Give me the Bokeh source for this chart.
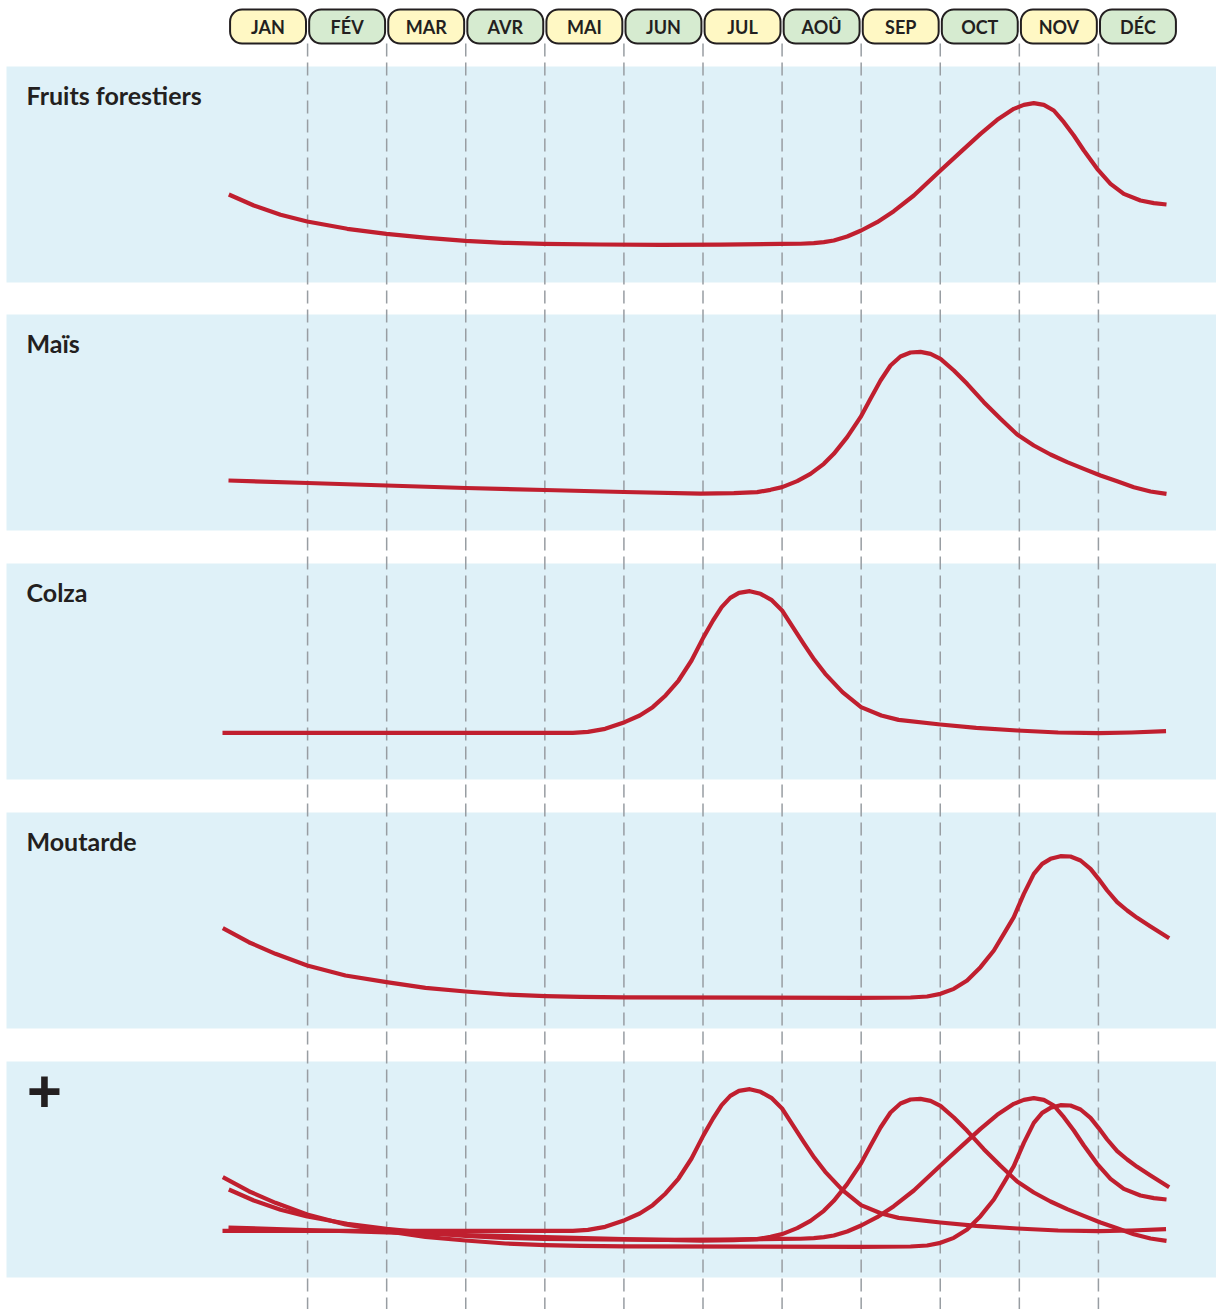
from bokeh.plotting import figure
from bokeh.models import Range1d
from bokeh.embed import file_html
from bokeh.resources import INLINE
from bokeh.core.properties import value

# ---------------- data ----------------
months = ["JAN", "FÉV", "MAR", "AVR", "MAI", "JUN", "JUL", "AOÛ", "SEP", "OCT", "NOV", "DÉC"]
month_colors = ["#fff8c4", "#d6ebd0"] * 6

titles = ["Fruits forestiers", "Maïs", "Colza", "Moutarde", "+"]

# x in months (0 = start of January), y in % of panel height
fruits_m = [0.004, 0.320, 0.658, 0.995, 1.501, 1.998, 2.513, 2.997, 3.481, 3.987, 4.704, 5.463, 6.221,
            6.980, 7.233, 7.401, 7.528, 7.654, 7.823, 8.000, 8.202, 8.413, 8.666, 9.003, 9.256,
            9.509, 9.720, 9.930, 10.057, 10.183, 10.310, 10.436, 10.563, 10.689, 10.816, 10.984,
            11.153, 11.321, 11.532, 11.701, 11.861]
fruits_v = [40.74, 35.65, 31.34, 28.24, 24.86, 22.55, 20.69, 19.31, 18.38, 17.92, 17.60, 17.45, 17.55,
            17.90, 17.95, 18.21, 18.67, 19.44, 21.30, 24.07, 27.93, 33.02, 40.28, 51.85, 60.34,
            68.83, 75.31, 80.40, 82.25, 83.02, 82.25, 79.63, 74.23, 68.06, 61.11, 52.62,
            45.68, 41.05, 37.96, 36.73, 36.11]

mais_m = [0.0, 1.0, 2.0, 3.0, 4.0, 5.0, 5.968, 6.390, 6.685, 6.854, 7.001, 7.191, 7.359, 7.528,
          7.654, 7.823, 7.992, 8.118, 8.245, 8.371, 8.497, 8.624, 8.750, 8.877, 9.003, 9.172,
          9.340, 9.551, 9.762, 9.973, 10.183, 10.394, 10.605, 10.816, 11.026, 11.237, 11.448,
          11.659, 11.861]
mais_v = [23.15, 21.99, 20.83, 19.68, 18.75, 17.82, 17.10, 17.28, 17.75, 18.83, 20.06, 22.84, 26.23, 30.86,
          35.49, 43.21, 52.47, 60.96, 69.44, 76.39, 80.56, 82.41, 82.72, 81.79, 79.48, 74.07,
          67.90, 59.41, 51.70, 44.44, 39.35, 35.19, 31.64, 28.55, 25.46, 22.84, 20.06,
          18.06, 16.98]

colza_m = [-0.076, 3.945, 4.354, 4.545, 4.763, 5.009, 5.200, 5.364, 5.527, 5.691, 5.855, 6.007,
           6.127, 6.236, 6.345, 6.455, 6.591, 6.727, 6.864, 7.000, 7.136, 7.273, 7.409, 7.546,
           7.764, 7.998, 8.255, 8.473, 9.002, 9.455, 9.973, 10.491, 11.004, 11.419, 11.855]
colza_v = [21.60, 21.60, 21.60, 22.07, 23.46, 26.54, 29.63, 33.49, 38.89, 45.83, 55.09, 65.90,
           73.61, 79.78, 84.10, 86.42, 87.19, 85.96, 83.18, 78.24, 70.52, 62.81, 55.40, 48.92,
           40.43, 33.49, 29.63, 27.62, 25.46, 23.92, 22.69, 21.76, 21.45, 21.76, 22.38]

mout_m = [-0.072, 0.257, 0.594, 0.995, 1.479, 1.998, 2.491, 2.997, 3.503, 4.008, 4.451, 5.0,
          7.992, 8.624, 8.834, 9.003, 9.172, 9.340, 9.509, 9.678, 9.804, 9.930, 10.057, 10.183,
          10.289, 10.394, 10.521, 10.647, 10.774, 10.900, 11.001, 11.111, 11.237, 11.364, 11.490,
          11.659, 11.895]
mout_v = [46.44, 39.95, 34.58, 29.17, 24.54, 21.44, 18.84, 17.13, 15.74, 14.95, 14.60, 14.40,
          14.20, 14.35, 14.81, 16.05, 18.36, 22.22, 28.40, 36.11, 43.83, 51.54, 62.35, 71.60,
          76.23, 78.55, 79.78, 79.63, 77.78, 73.92, 69.29, 63.89, 58.49, 54.63, 51.23,
          47.22, 41.82]

series = [(fruits_m, fruits_v), (mais_m, mais_v), (colza_m, colza_v), (mout_m, mout_v)]

# ---------------- layout ----------------
W, H = 1216, 1309
TOP_ROW, BOT_ROW = 0, 1309
PX_PER_M = (1177 - 228) / 12.0


def m_of(px):
    return (px - 228) / PX_PER_M


RED = "#c01f2f"
INK = "#231f20"
FONT = value("Lato")

p = figure(width=W, height=H, x_range=Range1d(m_of(0), m_of(W)),
           y_range=Range1d(BOT_ROW, TOP_ROW), output_backend="svg",
           toolbar_location=None, min_border=0, x_axis_location=None,
           y_axis_location=None, outline_line_color=None)
p.grid.visible = False
p.background_fill_color = "white"
p.border_fill_color = "white"

band_tops = [66, 314, 563, 812, 1061]
band_h = 216

p.quad(left=m_of(6), right=m_of(1216), top=band_tops, bottom=[t + band_h for t in band_tops],
       fill_color="#dff1f8", line_color=None)

# dashed month separators
seps = list(range(1, 12))
p.segment(x0=seps, y0=[43] * len(seps), x1=seps, y1=[BOT_ROW] * len(seps),
          line_color="#989da2", line_width=1.5, line_dash="13 6")

# month pills
idx = list(range(12))
p.quad(left=[i + 0.02 for i in idx], right=[i + 0.98 for i in idx], top=[9] * 12, bottom=[43] * 12,
       fill_color=month_colors, line_color=INK, line_width=2, border_radius=12)
p.text(x=[i + 0.5 for i in idx], y=[26.5] * 12, text=months, text_align="center",
       text_baseline="alphabetic", text_font=FONT, text_font_style="bold",
       text_font_size="18px", text_color=INK)

# panel titles
p.text(x=[m_of(26)] * 4, y=[t + 28 for t in band_tops[:4]], text=titles[:4], text_align="left",
       text_baseline="alphabetic", text_font=FONT, text_font_style="bold",
       text_font_size="25px", text_color=INK)
p.text(x=[m_of(44)], y=[band_tops[4] + 30], text=[titles[4]], text_align="center",
       text_baseline="alphabetic", text_font=value("Open Sans"), text_font_style="bold",
       text_font_size="62px", text_color=INK)

# per-panel y scales: 0..100 maps onto each band
extra = {}
for k, T in enumerate(band_tops):
    B = T + band_h
    span = 100.0 * H / (B - T)
    f0 = (BOT_ROW - B) / H
    s = -f0 * span
    extra[f"panel{k}"] = Range1d(s, s + span)
p.extra_y_ranges = extra

for k, (xs, vs) in enumerate(series):
    p.line(xs, vs, y_range_name=f"panel{k}", line_color=RED, line_width=4.2,
           line_join="round", line_cap="butt")
    p.line(xs, vs, y_range_name="panel4", line_color=RED, line_width=4.2,
           line_join="round", line_cap="butt")

open("out.html", "w").write(file_html(p, INLINE))
